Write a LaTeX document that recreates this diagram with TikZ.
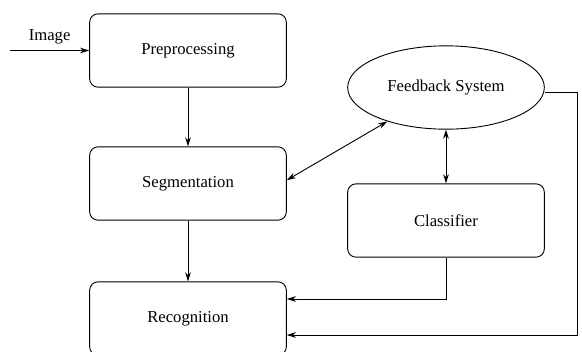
\documentclass[tikz,border=0pt]{standalone}
\usepackage{fontspec}
\setmainfont{Liberation Serif}
\usetikzlibrary{positioning}
\usetikzlibrary{arrows.meta}
\usetikzlibrary{shapes.geometric}

\tikzset{
  stagebox/.style={draw, rounded corners=5pt, minimum width=118pt, minimum height=44pt},
  loopnode/.style={draw, ellipse, minimum width=118pt, minimum height=50pt},
}

\begin{document}
\begin{tikzpicture}[x=0.6pt, y=-0.6pt, line width=0.55pt, >={Stealth[length=5.5pt,width=3.4pt]}]
        \useasboundingbox (0,0) rectangle (582,351);

        % Left column
        \node[stagebox] (pre) at (188,50.5) {Preprocessing};
        \node[stagebox] (seg) at (188,183.5) {Segmentation};
        \node[stagebox] (rec) at (188,318.5) {Recognition};

        % Right column
        \node[loopnode] (fb) at (446,87.5) {Feedback System};
        \node[stagebox] (cls) at (446,220.5) {Classifier};

        % Input
        \coordinate (in) at (10,50.5);
        \draw[->] (in) -- node[above] {Image} (pre.west);

        % Main flow
        \draw[->] (pre) -- (seg);
        \draw[->] (seg) -- (rec);

        % Feedback links
        \draw[<->] (fb.210) -- ([yshift=2pt]seg.east);
        \draw[<->] (fb) -- (cls);
        \draw[->] (cls.south) |- (rec.east |- 0,299);
        \coordinate (corner) at (577,92);
        \draw[->] (fb.east |- corner) -| (corner |- 0,335) -- (rec.east |- 0,335);
\end{tikzpicture}
\end{document}
